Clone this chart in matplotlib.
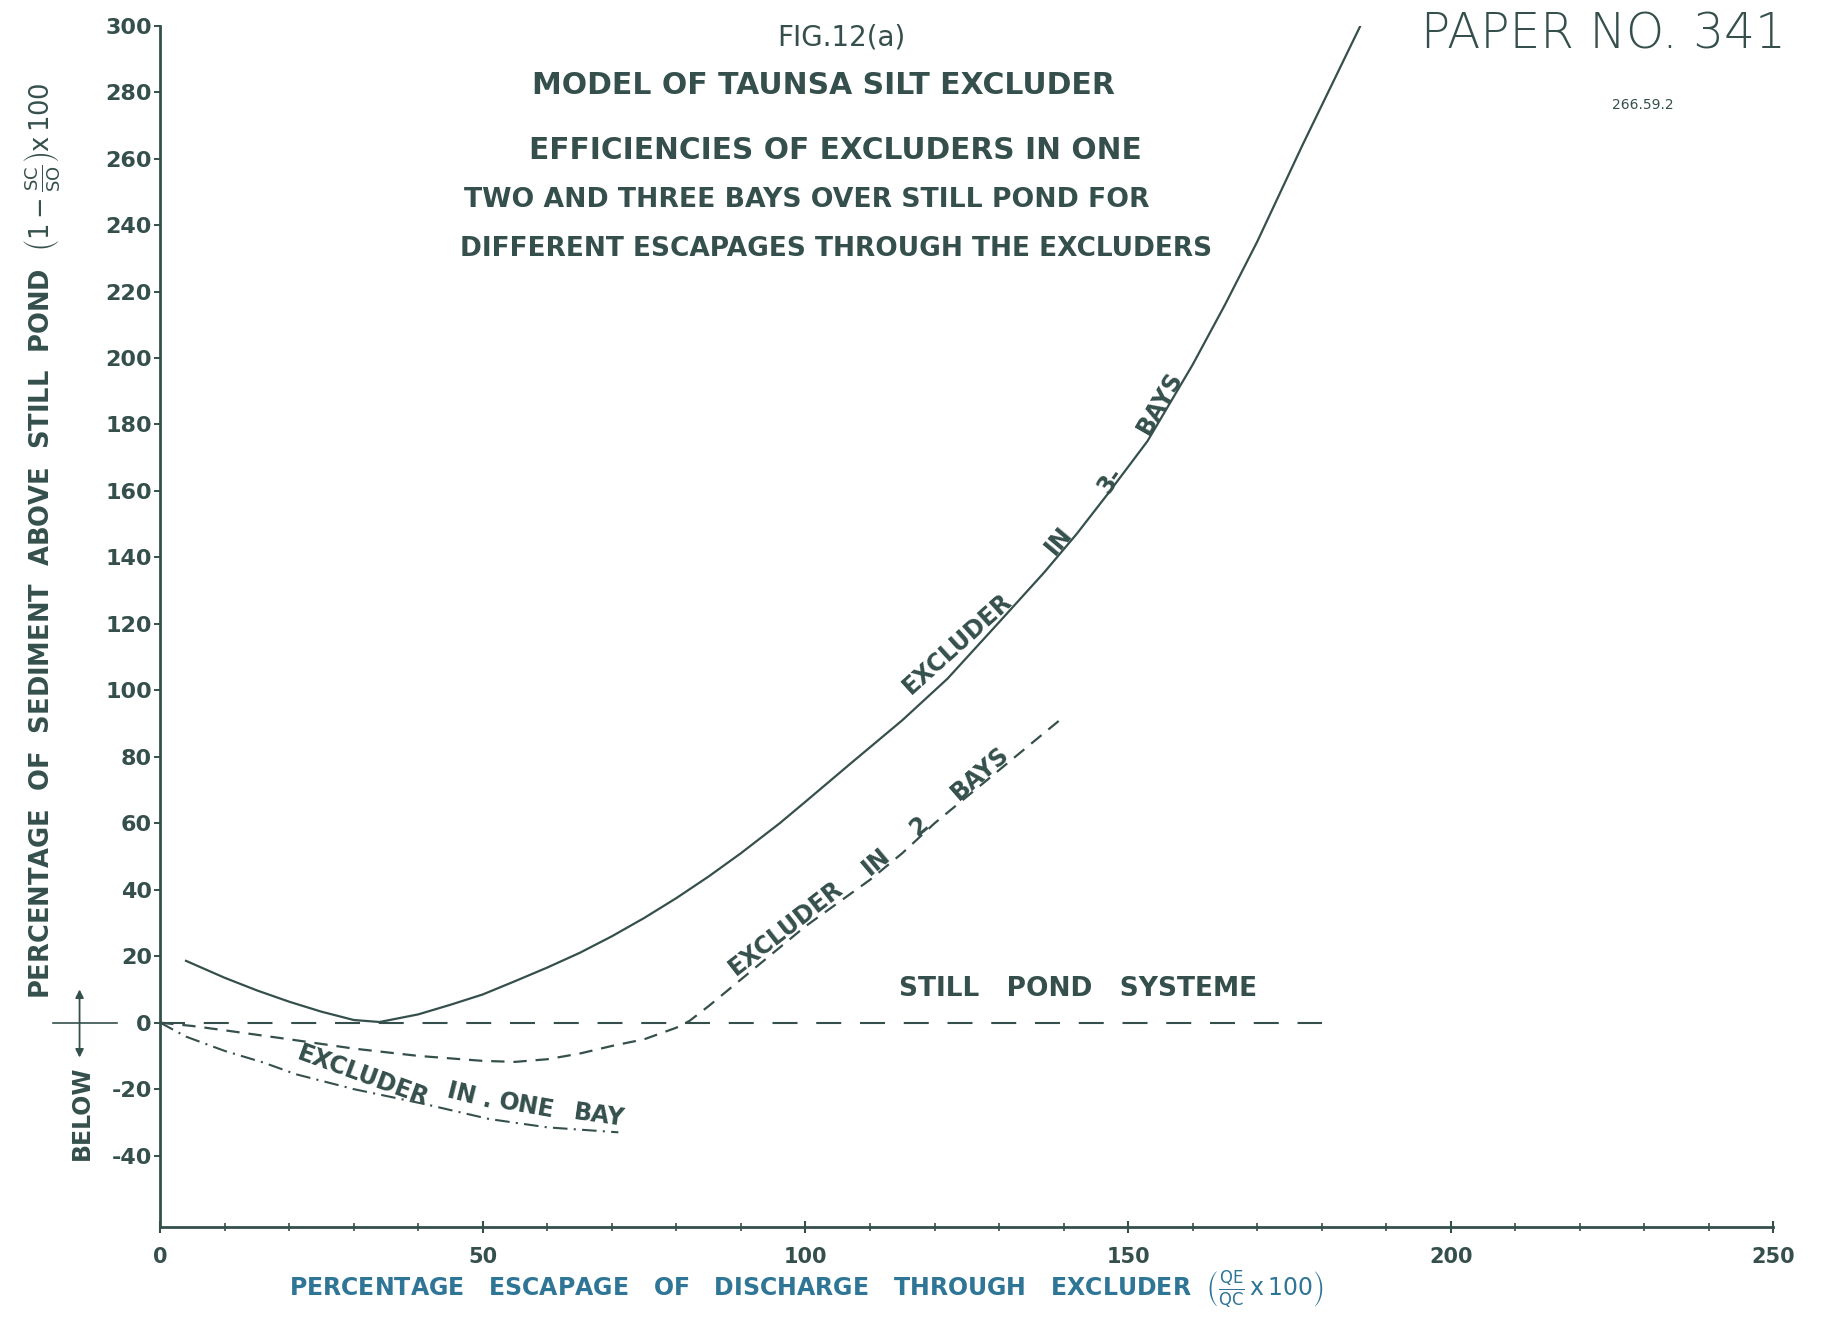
import matplotlib
matplotlib.use("Agg")
import matplotlib.pyplot as plt
from matplotlib import transforms

# Percentage escapage of discharge through the excluder (x) against
# percentage of sediment above / below the still-pond level (y)
three_bay_x = [4, 10, 15, 20, 25, 30, 34, 40, 45, 50, 55, 60, 65, 70, 75, 80,
               85, 90, 96, 100, 107, 115, 122, 130, 137, 142, 147, 153, 160,
               165, 170, 177, 186]
three_bay_y = [18.6, 13.5, 9.7, 6.3, 3.3, 0.8, 0.2, 2.5, 5.4, 8.5, 12.5, 16.6,
               21, 26, 31.5, 37.5, 44, 51, 60, 66.5, 78, 91, 103.5, 120.5,
               135.5, 147, 159.5, 175, 198, 216, 235, 264, 300]

two_bay_x = [0, 5, 10, 20, 30, 40, 50, 55, 60, 65, 70, 75, 80, 82, 85, 90, 95,
             100, 105, 110, 115, 120, 125, 130, 135, 140]
two_bay_y = [0, -1, -2.3, -5, -7.8, -10, -11.5, -11.8, -11, -9.3, -7, -5, -1.5,
             0.5, 5, 13, 21, 29, 36, 43, 51, 60, 68, 76, 84, 92]

one_bay_x = [0, 4, 10, 16, 21, 30, 41, 51, 60, 71]
one_bay_y = [0, -4.2, -8.5, -12, -15.5, -20, -24.5, -29, -31.5, -33]

still_pond_x = [0, 180]
still_pond_y = [0, 0]

x_ticks = [0, 50, 100, 150, 200, 250]
y_ticks = [-40, -20, 0, 20, 40, 60, 80, 100, 120, 140, 160, 180, 200, 220,
           240, 260, 280, 300]

INK = "#35504c"
BLUE = "#2f7596"
FONT = "DejaVu Sans"

plt.rcParams["mathtext.fontset"] = "dejavusans"
plt.rcParams["font.family"] = FONT

fig = plt.figure(figsize=(18.33, 13.31), dpi=100)
fig.patch.set_facecolor("white")
ax = fig.add_axes([0.0874, 0.0781, 0.9675 - 0.0874, 0.9807 - 0.0781])

ax.set_xlim(0, 250)
ax.set_ylim(-61.5, 300)

for side in ("top", "right"):
    ax.spines[side].set_visible(False)
for side in ("left", "bottom"):
    ax.spines[side].set_color(INK)
    ax.spines[side].set_linewidth(2.0)

ax.set_xticks(x_ticks)
ax.set_xticks(range(0, 251, 10), minor=True)
ax.set_yticks(y_ticks)
ax.set_yticklabels([str(v) for v in y_ticks])
ax.tick_params(axis="x", which="major", direction="inout", length=9, width=1.5,
               color=INK, pad=10, labelsize=15, labelcolor=INK)
ax.tick_params(axis="x", which="minor", direction="inout", length=6, width=1.2,
               color=INK)
ax.tick_params(axis="y", which="major", direction="out", length=4, width=1.4,
               color=INK, pad=2, labelsize=16, labelcolor=INK)
for lab in ax.get_xticklabels() + ax.get_yticklabels():
    lab.set_fontweight("bold")

# curves
ax.plot(three_bay_x, three_bay_y, color=INK, lw=1.6)
ax.plot(two_bay_x, two_bay_y, color=INK, lw=1.6, dashes=(6, 4))
ax.plot(one_bay_x, one_bay_y, color=INK, lw=1.5, dashes=(7, 3, 1, 3))
ax.plot(still_pond_x, still_pond_y, color=INK, lw=1.5, dashes=(12, 9))

lab_kw = dict(color=INK, fontsize=17, fontweight="bold", ha="center",
              va="center", rotation_mode="anchor")

# three-bay label
ax.text(123.5, 114, "EXCLUDER", rotation=42, **lab_kw)
ax.text(139.2, 145, "IN", rotation=50, **lab_kw)
ax.text(147.2, 163.3, "3-", rotation=55, **lab_kw)
ax.text(155.0, 186.4, "BAYS", rotation=60, **lab_kw)

# two-bay label
ax.text(97.0, 28.5, "EXCLUDER", rotation=38, **lab_kw)
ax.text(111.0, 48.5, "IN", rotation=40, **lab_kw)
ax.text(117.5, 59.0, "2", rotation=40, **lab_kw)
ax.text(127.0, 75.0, "BAYS", rotation=41, **lab_kw)

# one-bay label
ax.text(31.5, -16.0, "EXCLUDER", rotation=-20, **lab_kw)
ax.text(48.0, -22.0, "IN .", rotation=-14, **lab_kw)
ax.text(56.8, -25.0, "ONE", rotation=-10, **lab_kw)
ax.text(68.0, -28.0, "BAY", rotation=-8, **lab_kw)

ax.text(142.3, 10.0, "STILL   POND   SYSTEME", color=INK, fontsize=19,
        fontweight="bold", ha="center", va="center")

# titles
fig.text(0.459, 0.972, "FIG.12(a)", color=INK, fontsize=20, ha="center",
         va="center")
title_kw = dict(color=INK, fontweight="bold", ha="center", va="center")
fig.text(0.4495, 0.936, "MODEL OF TAUNSA SILT EXCLUDER", fontsize=21.5,
         **title_kw)
fig.text(0.456, 0.887, "EFFICIENCIES OF EXCLUDERS IN ONE", fontsize=21.3,
         **title_kw)
fig.text(0.440, 0.850, "TWO AND THREE BAYS OVER STILL POND FOR", fontsize=19.2,
         **title_kw)
fig.text(0.456, 0.813, "DIFFERENT ESCAPAGES THROUGH THE EXCLUDERS",
         fontsize=19, **title_kw)
fig.text(0.875, 0.974, "PAPER NO. 341", color=INK, fontsize=35,
         fontweight="light", ha="center", va="center")
fig.text(0.896, 0.921, "266.59.2", color=INK, fontsize=10, ha="center",
         va="center")

# axis titles
mixed = transforms.blended_transform_factory(fig.transFigure, ax.transData)
ax.text(0.0236, 145,
        r"PERCENTAGE  OF  SEDIMENT  ABOVE  STILL  POND  "
        r"$\left(1-\frac{\mathrm{SC}}{\mathrm{SO}}\right)\mathrm{x\,100}$",
        transform=mixed, rotation=90, ha="center", va="center", color=INK,
        fontsize=18.5, fontweight="bold", clip_on=False)
ax.text(0.0446, -27, "BELOW", transform=mixed, rotation=90, ha="center",
        va="center", color=INK, fontsize=17, fontweight="bold", clip_on=False)
ax.annotate("", xy=(0.0434, 10), xytext=(0.0434, -10.5), xycoords=mixed,
            textcoords=mixed, annotation_clip=False,
            arrowprops=dict(arrowstyle="<|-|>", color=INK, lw=1.3,
                            mutation_scale=12, shrinkA=0, shrinkB=0))
ax.plot([0.0287, 0.0638], [0, 0], transform=mixed, color=INK, lw=1.2,
        clip_on=False)

fig.text(0.440, 0.031,
         r"PERCENTAGE   ESCAPAGE   OF   DISCHARGE   THROUGH   EXCLUDER  "
         r"$\left(\frac{\mathrm{QE}}{\mathrm{QC}}\,\mathrm{x\,100}\right)$",
         color=BLUE, fontsize=17, fontweight="bold", ha="center", va="center")

fig.savefig("out.png", dpi=100, facecolor="white")
